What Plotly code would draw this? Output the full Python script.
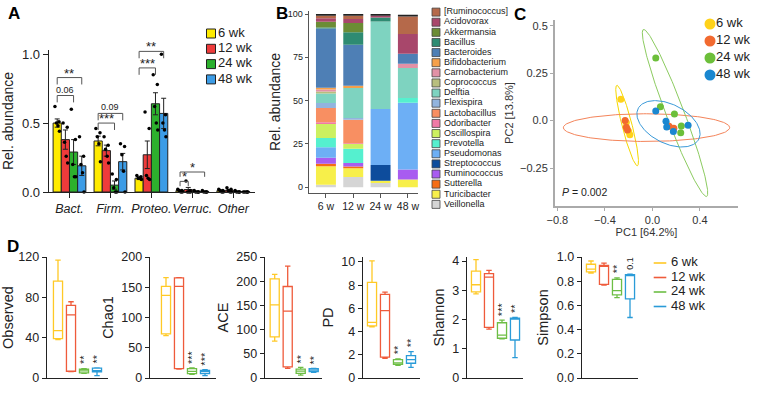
import numpy as np
import plotly.graph_objects as go

W, H = 768, 405
FONT = "Liberation Sans, Arial, Helvetica, sans-serif"
INK = "#222222"

# ---------------- Panel A data ----------------
phyla = ["Bact.", "Firm.", "Proteo.", "Verruc.", "Other"]
weeks = ["6 wk", "12 wk", "24 wk", "48 wk"]
colors_A = ["#FFEB00", "#EE3B3B", "#2DB02D", "#3C9CE6"]

mean_6wk = [0.50, 0.37, 0.10, 0.010, 0.010]
mean_12wk = [0.38, 0.30, 0.27, 0.018, 0.012]
mean_24wk = [0.29, 0.05, 0.64, 0.004, 0.004]
mean_48wk = [0.19, 0.22, 0.57, 0.004, 0.003]
sem_6wk = [0.03, 0.035, 0.01, 0.004, 0.004]
sem_12wk = [0.07, 0.04, 0.10, 0.015, 0.006]
sem_24wk = [0.09, 0.03, 0.08, 0.002, 0.002]
sem_48wk = [0.07, 0.06, 0.11, 0.002, 0.002]

dots_6wk = [[0.62, 0.51, 0.50, 0.48, 0.44], [0.46, 0.43, 0.40, 0.35, 0.22],
            [0.12, 0.11, 0.10, 0.10, 0.09], [0.02, 0.01, 0.01, 0.00, 0.00],
            [0.02, 0.01, 0.01, 0.00, 0.00]]
dots_12wk = [[0.50, 0.47, 0.36, 0.26, 0.21], [0.40, 0.34, 0.31, 0.26, 0.21],
             [0.58, 0.46, 0.12, 0.10, 0.09], [0.08, 0.01, 0.00, 0.00, 0.00],
             [0.03, 0.02, 0.01, 0.00, 0.00]]
dots_24wk = [[0.60, 0.38, 0.20, 0.11, 0.11], [0.13, 0.09, 0.03, 0.00, 0.00],
             [0.85, 0.78, 0.62, 0.50, 0.45], [0.01, 0.00, 0.00, 0.00, 0.00],
             [0.01, 0.00, 0.00, 0.00, 0.00]]
dots_48wk = [[0.40, 0.26, 0.20, 0.14, 0.00], [0.35, 0.33, 0.27, 0.15, 0.00],
             [1.00, 0.56, 0.50, 0.45, 0.40], [0.01, 0.00, 0.00, 0.00, 0.00],
             [0.00, 0.00, 0.00, 0.00, 0.00]]

# (phylum index, from group, to group, bracket height, label)
brackets_A = [(0, 0, 3, 0.83, "**"), (0, 0, 2, 0.70, "0.06"),
              (1, 0, 3, 0.57, "0.09"), (1, 0, 2, 0.50, "***"),
              (2, 0, 3, 1.02, "**"), (2, 0, 2, 0.90, "***"),
              (3, 0, 3, 0.145, "*"), (3, 0, 1, 0.077, "*")]

# ---------------- Panel B data ----------------
ages_B = ["6 w", "12 w", "24 w", "48 w"]
genera = ["[Ruminococcus]", "Acidovorax", "Akkermansia", "Bacillus", "Bacteroides",
          "Bifidobacterium", "Carnobacterium", "Coprococcus", "Delftia", "Flexispira",
          "Lactobacillus", "Odoribacter", "Oscillospira", "Prevotella", "Pseudomonas",
          "Streptococcus", "Ruminococcus", "Sutterella", "Turicibacter", "Veillonella"]
genus_colors = ["#B5694A", "#A8476B", "#6B8C35", "#2E8B72", "#4E7FB5",
                "#F5A04A", "#E291A6", "#B8BE7E", "#7ED3C0", "#92B4DE",
                "#F88F62", "#F07AA6", "#CCF060", "#55F0CF", "#6DAFF5",
                "#0D4C9C", "#A85CF0", "#F56D15", "#F7EF4A", "#D5D5D5"]
ab_Ruminococcus_br = [1.5, 1.9, 0.0, 10.2]
ab_Acidovorax = [2.0, 2.3, 1.0, 11.3]
ab_Akkermansia = [3.3, 5.4, 0.0, 0.0]
ab_Bacillus = [0.5, 7.1, 2.4, 0.0]
ab_Bacteroides = [34.3, 23.7, 0.0, 5.8]
ab_Bifidobacterium = [0.9, 1.3, 0.0, 0.0]
ab_Carnobacterium = [1.2, 0.0, 0.0, 2.5]
ab_Coprococcus = [1.2, 0.0, 0.0, 0.0]
ab_Delftia = [5.4, 17.3, 50.4, 17.3]
ab_Flexispira = [2.9, 1.0, 0.0, 0.0]
ab_Lactobacillus = [8.3, 13.6, 0.0, 0.0]
ab_Odoribacter = [1.0, 0.4, 0.0, 0.0]
ab_Oscillospira = [8.0, 2.7, 0.0, 0.0]
ab_Prevotella = [5.4, 8.3, 0.0, 2.7]
ab_Pseudomonas = [6.0, 0.0, 32.3, 38.5]
ab_Streptococcus = [0.0, 0.0, 9.1, 0.0]
ab_Ruminococcus = [3.5, 2.0, 0.0, 5.8]
ab_Sutterella = [1.5, 1.0, 0.0, 0.0]
ab_Turicibacter = [10.6, 5.0, 1.3, 4.5]
ab_Veillonella = [1.5, 6.0, 2.5, 0.0]
ab_unassigned = [1.0, 1.0, 1.0, 1.0]

# ---------------- Panel C data ----------------
colors_C = ["#FFD21A", "#F26A30", "#6CBF3A", "#1A87D0"]
ell_colors_C = ["#F5D800", "#F4845A", "#8CCB60", "#3A9AD9"]
pc1_6wk = [-0.266, -0.220, -0.215, -0.200, -0.190]
pc2_6wk = [0.113, -0.010, -0.040, -0.057, -0.074]
pc1_12wk = [-0.230, -0.220, 0.140, 0.180, -0.210]
pc2_12wk = [0.000, -0.035, -0.030, -0.040, -0.050]
pc1_24wk = [0.028, 0.067, 0.185, 0.243, 0.238]
pc2_24wk = [0.330, 0.073, 0.035, -0.028, -0.064]
pc1_48wk = [0.028, 0.114, 0.120, 0.176, 0.300]
pc2_48wk = [0.050, -0.004, -0.034, -0.057, -0.025]
# ellipse: centre, half major-axis vector, half minor-axis vector (PC units)
ellipse_6wk = [(-0.213, -0.026), (0.0865, -0.212), (0.0406, 0.0066)]
ellipse_12wk = [(-0.050, -0.037), (0.700, 0.000), (0.000, 0.073)]
ellipse_24wk = [(0.190, 0.040), (0.266, -0.440), (0.0705, 0.017)]
ellipse_48wk = [(0.135, -0.017), (0.256, -0.0798), (0.0718, 0.0926)]

# ---------------- Panel D data (lower, q1, median, q3, upper) ----------------
colors_D = ["#FFC926", "#EF5B3B", "#6DBE45", "#2A9BD8"]
metrics = ["Observed", "Chao1", "ACE", "PD", "Shannon", "Simpson"]
obs_6wk = [38, 39, 47, 96, 117]
obs_12wk = [6.3, 6.7, 62.6, 72, 75.6]
obs_24wk = [4.7, 5.0, 7.0, 8.7, 9.3]
obs_48wk = [2.3, 6.0, 7.3, 9.7, 10.0]
chao_6wk = [70, 73, 136.6, 151.5, 166]
chao_12wk = [14.9, 15.4, 151.5, 165.5, 166]
chao_24wk = [6.0, 7.2, 11.0, 15.4, 16.5]
chao_48wk = [3.9, 7.2, 10.5, 12.7, 13.8]
ace_6wk = [76, 85, 151, 205, 214]
ace_12wk = [20, 23, 138, 189, 231]
ace_24wk = [6.0, 9.6, 14.4, 18.5, 22.0]
ace_48wk = [11.6, 13.0, 16.4, 19.2, 20.0]
pd_6wk = [4.4, 4.5, 4.8, 8.25, 10.1]
pd_12wk = [1.7, 1.8, 5.8, 7.2, 7.4]
pd_24wk = [1.10, 1.18, 1.30, 1.58, 1.65]
pd_48wk = [0.92, 1.27, 1.58, 1.93, 2.27]
sh_6wk = [2.88, 2.95, 3.19, 3.66, 4.05]
sh_12wk = [1.67, 1.73, 3.45, 3.57, 3.68]
sh_24wk = [1.34, 1.36, 1.47, 1.89, 1.98]
sh_48wk = [0.70, 1.30, 2.02, 2.05, 2.07]
simp_6wk = [0.866, 0.877, 0.900, 0.940, 0.967]
simp_12wk = [0.768, 0.774, 0.926, 0.930, 0.950]
simp_24wk = [0.665, 0.687, 0.722, 0.815, 0.828]
simp_48wk = [0.500, 0.654, 0.850, 0.855, 0.858]
signif_24wk = ["**", "***", "**", "**", "***", "**"]
signif_48wk = ["**", "***", "**", "**", "**", "0.1"]
yticks_D = [[0, 40, 80, 120], [0, 50, 100, 150, 200], [0, 50, 100, 150, 200, 250],
            [0, 2, 4, 6, 8, 10], [0, 1, 2, 3, 4], [0.0, 0.2, 0.4, 0.6, 0.8, 1.0]]

# ====================================================================
fig = go.Figure()
layout = {}


def xdom(a, b):
    return [a / W, b / W]


def ydom(top, bottom):
    return [1 - bottom / H, 1 - top / H]


axis_font = dict(family=FONT, size=13, color=INK)

# ---------------- Panel A ----------------
pos_A = np.arange(len(phyla))
slot_w = 0.2
slot = lambda i, g: i + (g - 1.5) * slot_w
spread = [-0.055, 0.045, -0.02, 0.02, 0.055]
means_A = [mean_6wk, mean_12wk, mean_24wk, mean_48wk]
sems_A = [sem_6wk, sem_12wk, sem_24wk, sem_48wk]
dots_A = [dots_6wk, dots_12wk, dots_24wk, dots_48wk]
for wk, col, mean, sem in zip(weeks, colors_A, means_A, sems_A):
    fig.add_trace(go.Bar(x=pos_A, y=mean, name=wk,
                         marker=dict(color=col, line=dict(color=INK, width=1)),
                         error_y=dict(type="data", array=sem, color=INK, thickness=1, width=2.5),
                         xaxis="x", yaxis="y", hoverinfo="skip"))
for g, (wk, dots) in enumerate(zip(weeks, dots_A)):
    xs = [slot(i, g) + spread[j] for i, vals in enumerate(dots) for j in range(len(vals))]
    ys = [v for vals in dots for v in vals]
    fig.add_trace(go.Scatter(x=xs, y=ys, mode="markers", marker=dict(color="black", size=3.5),
                             xaxis="x", yaxis="y", hoverinfo="skip", cliponaxis=False))

shapes = []
annotations = []
for (i, g0, g1, yb, lab) in brackets_A:
    leg = 0.035 if yb < 0.2 else 0.05
    x0, x1 = slot(i, g0), slot(i, g1)
    shapes.append(dict(type="path", xref="x", yref="y",
                       path=f"M {x0},{yb-leg} L {x0},{yb} L {x1},{yb} L {x1},{yb-leg}",
                       line=dict(color="#555", width=1)))
    star = "*" in lab
    annotations.append(dict(x=(x0 + x1) / 2, y=yb, xref="x", yref="y", text=lab, showarrow=False,
                            yanchor="bottom", yshift=-5 if star else -1,
                            font=dict(family=FONT, size=13 if star else 9, color=INK)))

layout["xaxis"] = dict(domain=xdom(49, 255), anchor="y", range=[-0.5, 4.53],
                       tickvals=pos_A, ticktext=phyla, tickangle=0,
                       showline=True, linecolor=INK, linewidth=1.3, ticks="outside", ticklen=5,
                       tickcolor=INK, tickfont=dict(family=FONT, size=12.5, color=INK, style="italic"),
                       showgrid=False, zeroline=False)
layout["yaxis"] = dict(domain=ydom(50, 192), anchor="x", range=[0, 1.03], tickvals=[0, 0.5, 1.0],
                       tickformat=".1f", showline=True, linecolor=INK, linewidth=1.3,
                       ticks="outside", ticklen=5, tickcolor=INK, tickfont=axis_font,
                       title=dict(text="Rel. abundance", font=dict(family=FONT, size=14, color=INK),
                                  standoff=8),
                       showgrid=False, zeroline=False)

# ---------------- Panel B ----------------
ab_series = [ab_Ruminococcus_br, ab_Acidovorax, ab_Akkermansia, ab_Bacillus, ab_Bacteroides,
             ab_Bifidobacterium, ab_Carnobacterium, ab_Coprococcus, ab_Delftia, ab_Flexispira,
             ab_Lactobacillus, ab_Odoribacter, ab_Oscillospira, ab_Prevotella, ab_Pseudomonas,
             ab_Streptococcus, ab_Ruminococcus, ab_Sutterella, ab_Turicibacter, ab_Veillonella]
stack_names = list(reversed(genera)) + ["unassigned"]
stack_vals = list(reversed(ab_series)) + [ab_unassigned]
stack_cols = list(reversed(genus_colors)) + ["#222222"]
base = np.zeros(len(ages_B))
for nm, vals, col in zip(stack_names, stack_vals, stack_cols):
    fig.add_trace(go.Bar(x=ages_B, y=vals, base=base.copy(), name=nm, offsetgroup="stk",
                         width=0.73, marker=dict(color=col, line=dict(width=0)),
                         xaxis="x2", yaxis="y2", hoverinfo="skip"))
    base = base + np.array(vals)

layout["xaxis2"] = dict(domain=xdom(309, 418), anchor="y2", type="category", range=[-0.62, 3.37],
                        showline=True, linecolor="#555", linewidth=1.3, ticks="outside", ticklen=4,
                        tickcolor="#555", tickfont=dict(family=FONT, size=10.5, color=INK),
                        showgrid=False, zeroline=False)
layout["yaxis2"] = dict(domain=ydom(11.4, 192.5), anchor="x2", range=[-3, 101.5],
                        tickvals=[0, 25, 50, 75, 100], showline=True, linecolor="#555", linewidth=1.3,
                        ticks="outside", ticklen=3, tickcolor="#555",
                        tickfont=dict(family=FONT, size=9, color=INK),
                        title=dict(text="Rel. abundance", font=dict(family=FONT, size=14, color=INK),
                                   standoff=4),
                        showgrid=False, zeroline=False)

# ---------------- Panel C ----------------
pc1_all = [pc1_6wk, pc1_12wk, pc1_24wk, pc1_48wk]
pc2_all = [pc2_6wk, pc2_12wk, pc2_24wk, pc2_48wk]
ellipses = [ellipse_6wk, ellipse_12wk, ellipse_24wk, ellipse_48wk]
t = np.linspace(0, 2 * np.pi, 181)
for wk, ell, ecol in zip(weeks, ellipses, ell_colors_C):
    (cx, cy), (ax_, ay_), (bx_, by_) = ell
    fig.add_trace(go.Scatter(x=cx + ax_ * np.cos(t) + bx_ * np.sin(t),
                             y=cy + ay_ * np.cos(t) + by_ * np.sin(t),
                             mode="lines", line=dict(color=ecol, width=1),
                             xaxis="x3", yaxis="y3", hoverinfo="skip"))
for wk, xs, ys, col in zip(weeks, pc1_all, pc2_all, colors_C):
    fig.add_trace(go.Scatter(x=xs, y=ys, mode="markers", name=wk,
                             marker=dict(color=col, size=7), xaxis="x3", yaxis="y3",
                             hoverinfo="skip"))

c_font = dict(family=FONT, size=11, color="#333")
layout["xaxis3"] = dict(domain=xdom(555, 738), anchor="y3", range=[-0.82, 0.72],
                        tickvals=[-0.8, -0.4, 0.0, 0.4], ticktext=["−0.8", "−0.4", "0.0", "0.4"],
                        showline=True, linecolor="#aaa", linewidth=2, ticks="outside", ticklen=3,
                        tickcolor="#aaa", tickfont=c_font,
                        title=dict(text="PC1 [64.2%]", font=c_font, standoff=2),
                        showgrid=False, zeroline=False)
layout["yaxis3"] = dict(domain=ydom(20, 206), anchor="x3", range=[-0.45, 0.53],
                        tickvals=[-0.25, 0, 0.25, 0.5], ticktext=["−0.25", "0.0", "0.25", "0.5"],
                        showline=True, linecolor="#aaa", linewidth=2, ticks="outside", ticklen=3,
                        tickcolor="#aaa", tickfont=c_font,
                        title=dict(text="PC2 [13.8%]", font=c_font, standoff=4),
                        showgrid=False, zeroline=False)
annotations.append(dict(x=0.03, y=0.03, xref="x3 domain", yref="y3 domain", xanchor="left",
                        yanchor="bottom", text="<i>P</i> = 0.002", showarrow=False,
                        font=dict(family=FONT, size=10.5, color=INK)))

# ---------------- Panel D ----------------
stats_D = [[obs_6wk, obs_12wk, obs_24wk, obs_48wk],
           [chao_6wk, chao_12wk, chao_24wk, chao_48wk],
           [ace_6wk, ace_12wk, ace_24wk, ace_48wk],
           [pd_6wk, pd_12wk, pd_24wk, pd_48wk],
           [sh_6wk, sh_12wk, sh_24wk, sh_48wk],
           [simp_6wk, simp_12wk, simp_24wk, simp_48wk]]
# axis-line px, axis-end px, first-box-centre px
frames_D = [(47, 108, 58), (150, 216, 166), (265, 322, 274.7),
            (363, 420, 372), (467, 523, 476), (582, 638, 591)]
ytops_D = [120, 200, 250, 10.43, 4.14, 1.0]
unit = 13.0
for k, (metric, stats, (ax0, ax1, c0), ytop, ticks) in enumerate(
        zip(metrics, stats_D, frames_D, ytops_D, yticks_D)):
    n = k + 4
    xa, ya = f"x{n}", f"y{n}"
    for wk, st, col in zip(weeks, stats, colors_D):
        lo, q1, md, q3, hi = st
        fig.add_trace(go.Box(x=[wk], lowerfence=[lo], q1=[q1], median=[md], q3=[q3],
                             upperfence=[hi], width=0.7, whiskerwidth=0.6, offsetgroup="d",
                             line=dict(color=col, width=1.3), fillcolor="white",
                             xaxis=xa, yaxis=ya, hoverinfo="skip"))
    for g, lab in ((2, signif_24wk[k]), (3, signif_48wk[k])):
        star = "*" in lab
        annotations.append(dict(x=g, y=stats[g][4], xref=xa, yref=ya, text=lab, showarrow=False,
                                textangle=-90, yanchor="bottom", yshift=2,
                                font=dict(family=FONT, size=11 if star else 9, color=INK)))
    layout[f"xaxis{n}"] = dict(domain=xdom(ax0, ax1), anchor=ya, type="category",
                               categoryorder="array", categoryarray=weeks,
                               range=[(ax0 - c0) / unit, (ax1 - c0) / unit],
                               showline=True, linecolor=INK, linewidth=1.3, showticklabels=False,
                               ticks="", showgrid=False, zeroline=False)
    layout[f"yaxis{n}"] = dict(domain=ydom(257, 378), anchor=xa, range=[0, ytop], tickvals=ticks,
                               tickformat=".1f" if metric == "Simpson" else "",
                               showline=True, linecolor=INK, linewidth=1.3, ticks="outside",
                               ticklen=4, tickcolor=INK, tickfont=dict(family=FONT, size=12.5, color=INK),
                               title=dict(text=metric, font=dict(family=FONT, size=14.5, color=INK),
                                          standoff=4),
                               showgrid=False, zeroline=False)


# ---------------- hand-built legends ----------------
def add_legend(n, labels, x_px, y0_px, step_px, width_px, marker, font_size, text_dx):
    cnt = len(labels)
    layout[f"xaxis{n}"] = dict(domain=xdom(x_px - 10, x_px + width_px), anchor=f"y{n}",
                               range=[-10, width_px], visible=False, fixedrange=True)
    layout[f"yaxis{n}"] = dict(domain=ydom(y0_px - step_px / 2, y0_px + step_px * (cnt - 0.5)),
                               anchor=f"x{n}", range=[cnt - 0.5, -0.5], visible=False,
                               fixedrange=True)
    fig.add_trace(go.Scatter(x=[0] * cnt, y=list(range(cnt)), mode="markers", marker=marker,
                             cliponaxis=False, xaxis=f"x{n}", yaxis=f"y{n}", hoverinfo="skip"))
    fig.add_trace(go.Scatter(x=[text_dx] * cnt, y=list(range(cnt)), mode="text", text=labels,
                             textposition="middle right", cliponaxis=False,
                             textfont=dict(family=FONT, size=font_size, color=INK),
                             xaxis=f"x{n}", yaxis=f"y{n}", hoverinfo="skip"))


add_legend(10, weeks, 211, 33.5, 15.3, 50,
           dict(symbol="square", size=9, color=colors_A, line=dict(color=INK, width=1)), 13, 7)
add_legend(11, genera, 436, 12.1, 10.12, 85,
           dict(symbol="square", size=8, color=genus_colors, line=dict(color="#444", width=0.8)),
           9, 8)
add_legend(12, weeks, 710, 24, 17, 50, dict(symbol="circle", size=11, color=colors_C), 13, 6)
add_legend(13, weeks, 660, 263, 14.5, 60,
           dict(symbol="line-ew", size=9, color=colors_D, line=dict(color=colors_D, width=1.6)),
           13, 11)

# no automatic margin growth anywhere
for key, ax in layout.items():
    if key.startswith(("xaxis", "yaxis")):
        ax["automargin"] = False

# ---------------- panel letters ----------------
for letter, x, y in (("A", 14, 14), ("B", 282, 14), ("C", 520, 15), ("D", 13, 246)):
    annotations.append(dict(x=x / W, y=1 - y / H, xref="paper", yref="paper", text=f"<b>{letter}</b>",
                            showarrow=False, xanchor="center", yanchor="middle",
                            font=dict(family=FONT, size=17, color="black")))

fig.update_layout(width=W, height=H, margin=dict(l=0, r=0, t=0, b=0, pad=0), autosize=False,
                  paper_bgcolor="white", plot_bgcolor="white", showlegend=False,
                  hovermode=False,
                  barmode="group", bargap=0.2, bargroupgap=0, font=dict(family=FONT, color=INK),
                  shapes=shapes, annotations=annotations, **layout)

fig.write_html("out.html", config={"displayModeBar": False, "staticPlot": True},
               post_script="document.body.style.margin='0';")
